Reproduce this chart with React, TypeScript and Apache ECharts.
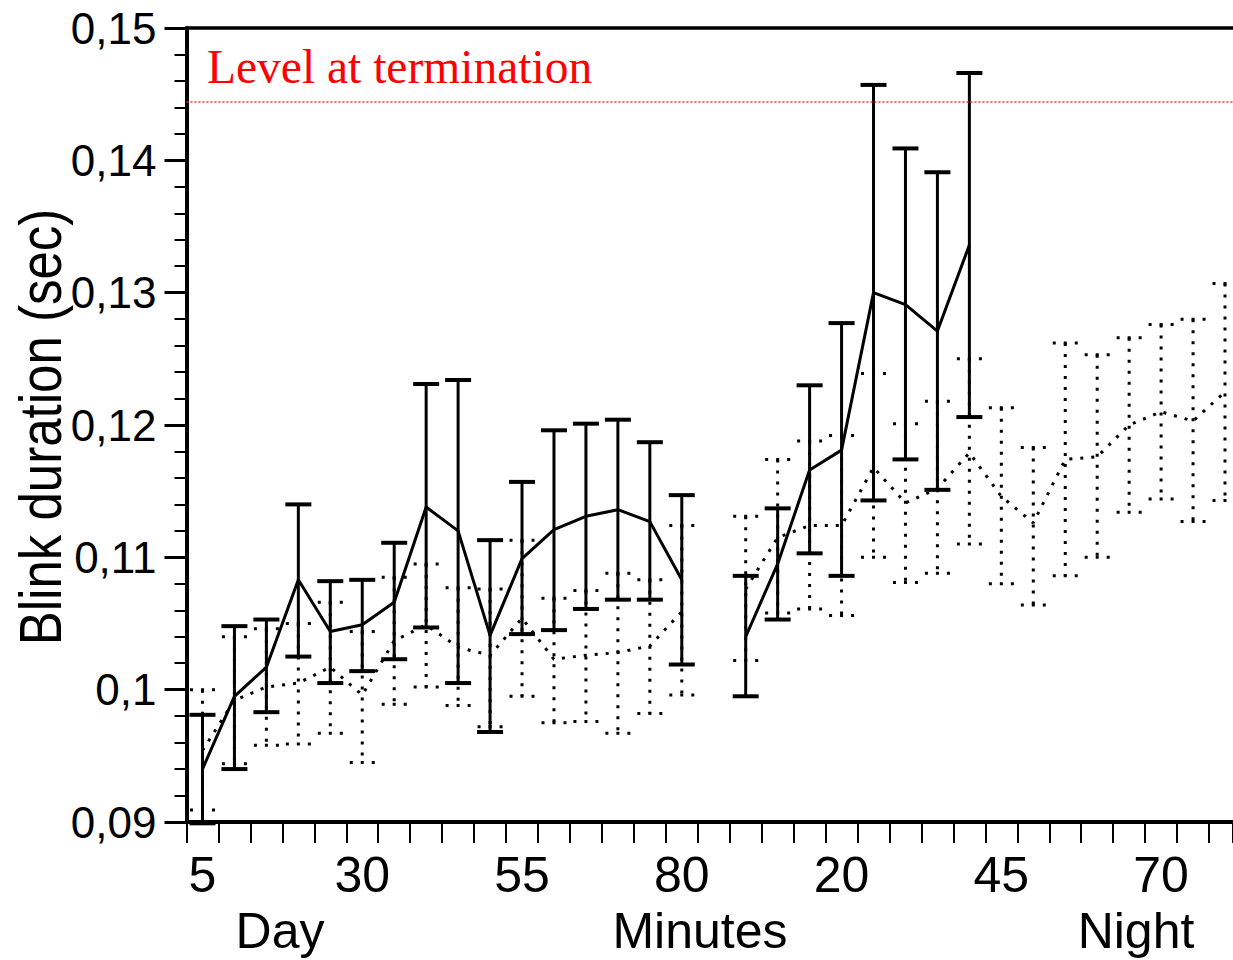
import React, { useEffect, useRef } from 'react';
import * as echarts from 'echarts';

// ---------- data ----------
const dayMinutes = [5, 10, 15, 20, 25, 30, 35, 40, 45, 50, 55, 60, 65, 70, 75, 80];
const nightMinutes = [5, 10, 15, 20, 25, 30, 35, 40, 45, 50, 55, 60, 65, 70, 75, 80];

// solid series
const solidDayMean = [0.0940, 0.0995, 0.1017, 0.1083, 0.1044, 0.1049, 0.1066, 0.1138, 0.1120, 0.1041, 0.1099, 0.1121, 0.1131, 0.1136, 0.1127, 0.1083];
const solidDayHigh = [0.0981, 0.1048, 0.1053, 0.1140, 0.1082, 0.1083, 0.1111, 0.1231, 0.1234, 0.1113, 0.1157, 0.1196, 0.1201, 0.1204, 0.1187, 0.1147];
const solidDayLow = [0.0899, 0.0940, 0.0983, 0.1025, 0.1005, 0.1014, 0.1023, 0.1047, 0.1005, 0.0968, 0.1042, 0.1045, 0.1061, 0.1068, 0.1068, 0.1019];
const solidNightMean = [0.1040, 0.1095, 0.1166, 0.1181, 0.1300, 0.1291, 0.1271, 0.1336];
const solidNightHigh = [0.1086, 0.1137, 0.1230, 0.1277, 0.1457, 0.1409, 0.1391, 0.1466];
const solidNightLow = [0.0995, 0.1053, 0.1103, 0.1086, 0.1143, 0.1174, 0.1151, 0.1206];

// dotted series
const dottedDayMean = [0.0954, 0.0992, 0.1002, 0.1005, 0.1017, 0.0996, 0.1037, 0.1049, 0.1032, 0.1026, 0.1054, 0.1023, 0.1026, 0.1028, 0.1033, 0.1059];
const dottedDayHigh = [0.1000, 0.1040, 0.1046, 0.1050, 0.1066, 0.1044, 0.1085, 0.1095, 0.1077, 0.1076, 0.1113, 0.1069, 0.1075, 0.1088, 0.1083, 0.1124];
const dottedDayLow = [0.0909, 0.0944, 0.0958, 0.0959, 0.0967, 0.0945, 0.0989, 0.1002, 0.0988, 0.0972, 0.0995, 0.0975, 0.0976, 0.0967, 0.0982, 0.0996];
const dottedNightMean = [0.1076, 0.1115, 0.1124, 0.1124, 0.1168, 0.1141, 0.1152, 0.1179, 0.1146, 0.1126, 0.1174, 0.1176, 0.1200, 0.1210, 0.1203, 0.1225];
const dottedNightHigh = [0.1131, 0.1174, 0.1188, 0.1192, 0.1239, 0.1201, 0.1218, 0.1250, 0.1213, 0.1183, 0.1262, 0.1253, 0.1266, 0.1276, 0.1280, 0.1307];
const dottedNightLow = [0.1022, 0.1058, 0.1061, 0.1056, 0.1100, 0.1081, 0.1088, 0.1110, 0.1080, 0.1064, 0.1086, 0.1100, 0.1134, 0.1144, 0.1127, 0.1143];

const terminationLevel = 0.1444;
const labelEvery = 5; // label every 5th category

// ---------- helpers ----------
const FONT = '"Liberation Sans", Arial, Helvetica, sans-serif';
const SERIF = '"Liberation Serif", "Times New Roman", Times, serif';
const NIGHT_OFFSET = dayMinutes.length + 1; // one empty category between Day and Night

const dayX = (i: number) => i + 0.5;
const nightX = (j: number) => j + NIGHT_OFFSET + 0.5;

function meanData(day: number[], night: number[]) {
  const d: (number | null)[][] = day.map((v, i) => [dayX(i), v]);
  d.push([dayMinutes.length + 0.5, null]);
  night.forEach((v, j) => d.push([nightX(j), v]));
  return d;
}
function errData(dayLo: number[], dayHi: number[], nightLo: number[], nightHi: number[]) {
  const d: number[][] = dayLo.map((v, i) => [dayX(i), v, dayHi[i]]);
  nightLo.forEach((v, j) => d.push([nightX(j), v, nightHi[j]]));
  return d;
}

function errRender(dotted: boolean) {
  return (params: any, api: any) => {
    const x = api.value(0);
    const top = api.coord([x, api.value(2)]);
    const bot = api.coord([x, api.value(1)]);
    const half = dotted ? 12.5 : 13;
    const vStyle: any = { stroke: '#000', lineWidth: 3, fill: null };
    const cStyle: any = { stroke: '#000', lineWidth: dotted ? 3 : 4, fill: null };
    if (dotted) {
      vStyle.lineDash = [3, 8];
      cStyle.lineDash = [3, 8];
      vStyle.lineCap = 'butt';
      cStyle.lineCap = 'butt';
    }
    return {
      type: 'group',
      children: [
        { type: 'line', shape: { x1: top[0], y1: top[1], x2: bot[0], y2: bot[1] }, style: vStyle },
        { type: 'line', shape: { x1: top[0] - half, y1: top[1], x2: top[0] + half, y2: top[1] }, style: cStyle },
        { type: 'line', shape: { x1: bot[0] - half, y1: bot[1], x2: bot[0] + half, y2: bot[1] }, style: cStyle },
      ],
    };
  };
}

function xLabel(v: number) {
  const k = v - 0.5;
  if (Math.abs(k - Math.round(k)) > 1e-6) return '';
  const idx = Math.round(k);
  if (idx % labelEvery !== 0) return '';
  if (idx < dayMinutes.length) return String(dayMinutes[idx]);
  const n = idx - NIGHT_OFFSET;
  if (n >= 0 && n < nightMinutes.length) return String(nightMinutes[n]);
  return '';
}

function yLabel(v: number) {
  return String(+v.toFixed(3)).replace('.', ',');
}

export default function App() {
  const ref = useRef<HTMLDivElement>(null);
  useEffect(() => {
    if (!ref.current) return;
    const chart = echarts.init(ref.current, null, { renderer: 'svg' });
    const XMAX = 32.75;
    const option: any = {
      animation: false,
      backgroundColor: '#fff',
      grid: { left: 186.5, top: 28, width: 1048, height: 794 },
      xAxis: [
        {
          type: 'value', min: 0, max: XMAX, interval: 1, position: 'bottom',
          axisLine: { show: true, onZero: false, lineStyle: { color: '#000', width: 4 } },
          axisTick: { show: true, length: 21, lineStyle: { color: '#000', width: 2 } },
          axisLabel: { show: false },
          splitLine: { show: false },
        },
        {
          type: 'value', min: 0, max: XMAX, interval: 0.5, position: 'bottom',
          axisLine: { show: false, onZero: false },
          axisTick: { show: false },
          splitLine: { show: false },
          axisLabel: {
            show: true, margin: 28, fontSize: 50, color: '#000', fontFamily: FONT,
            showMinLabel: true, showMaxLabel: false, formatter: xLabel,
          },
        },
        {
          type: 'value', min: 0, max: XMAX, position: 'top',
          axisLine: { show: true, onZero: false, lineStyle: { color: '#000', width: 3.5 } },
          axisTick: { show: false },
          axisLabel: { show: false },
          splitLine: { show: false },
        },
      ],
      yAxis: {
        type: 'value', min: 0.09, max: 0.15, interval: 0.01,
        axisLine: { show: true, onZero: false, lineStyle: { color: '#000', width: 4 } },
        axisTick: { show: true, length: 22, lineStyle: { color: '#000', width: 3 } },
        minorTick: { show: true, splitNumber: 5, length: 12, lineStyle: { color: '#000', width: 2 } },
        splitLine: { show: false },
        minorSplitLine: { show: false },
        axisLabel: {
          margin: 30, fontSize: 44, color: '#000', fontFamily: FONT,
          padding: [0, 0, 9, 0], formatter: yLabel,
        },
      },
      graphic: [
        {
          type: 'text', x: 41, y: 427, rotation: Math.PI / 2, scaleX: 0.85,
          style: { text: 'Blink duration (sec)', fontSize: 60, fontFamily: FONT, fill: '#000', align: 'center', verticalAlign: 'middle' },
        },
        {
          type: 'text', x: 207, y: 67,
          style: { text: 'Level at termination', fontSize: 47.5, fontFamily: SERIF, fill: '#ff0000', align: 'left', verticalAlign: 'middle' },
        },
        {
          type: 'text', x: 280, y: 931,
          style: { text: 'Day', fontSize: 50, fontFamily: FONT, fill: '#000', align: 'center', verticalAlign: 'middle' },
        },
        {
          type: 'text', x: 700, y: 931,
          style: { text: 'Minutes', fontSize: 50, fontFamily: FONT, fill: '#000', align: 'center', verticalAlign: 'middle' },
        },
        {
          type: 'text', x: 1136, y: 931,
          style: { text: 'Night', fontSize: 50, fontFamily: FONT, fill: '#000', align: 'center', verticalAlign: 'middle' },
        },
      ],
      series: [
        {
          name: 'dotted error', type: 'custom', xAxisIndex: 0, z: 2,
          renderItem: errRender(true),
          encode: { x: 0, y: [1, 2] },
          data: errData(dottedDayLow, dottedDayHigh, dottedNightLow, dottedNightHigh),
        },
        {
          name: 'dotted mean', type: 'line', xAxisIndex: 0, z: 2, symbol: 'none', connectNulls: false,
          lineStyle: { color: '#000', width: 3, type: [3, 8], cap: 'butt' },
          data: meanData(dottedDayMean, dottedNightMean),
        },
        {
          name: 'solid error', type: 'custom', xAxisIndex: 0, z: 3,
          renderItem: errRender(false),
          encode: { x: 0, y: [1, 2] },
          data: errData(solidDayLow, solidDayHigh, solidNightLow, solidNightHigh),
        },
        {
          name: 'solid mean', type: 'line', xAxisIndex: 0, z: 3, symbol: 'none', connectNulls: false,
          lineStyle: { color: '#000', width: 3 },
          data: meanData(solidDayMean, solidNightMean),
          markLine: {
            silent: true, symbol: 'none', precision: 4, label: { show: false },
            lineStyle: { color: '#ff3030', width: 1.5, type: [2, 2] },
            data: [{ yAxis: terminationLevel }],
          },
        },
      ],
    };
    chart.setOption(option);
    return () => chart.dispose();
  }, []);
  return (
    <div
      ref={ref}
      style={{ position: 'fixed', left: 0, top: 0, width: 1233, height: 960, background: '#fff' }}
    />
  );
}
